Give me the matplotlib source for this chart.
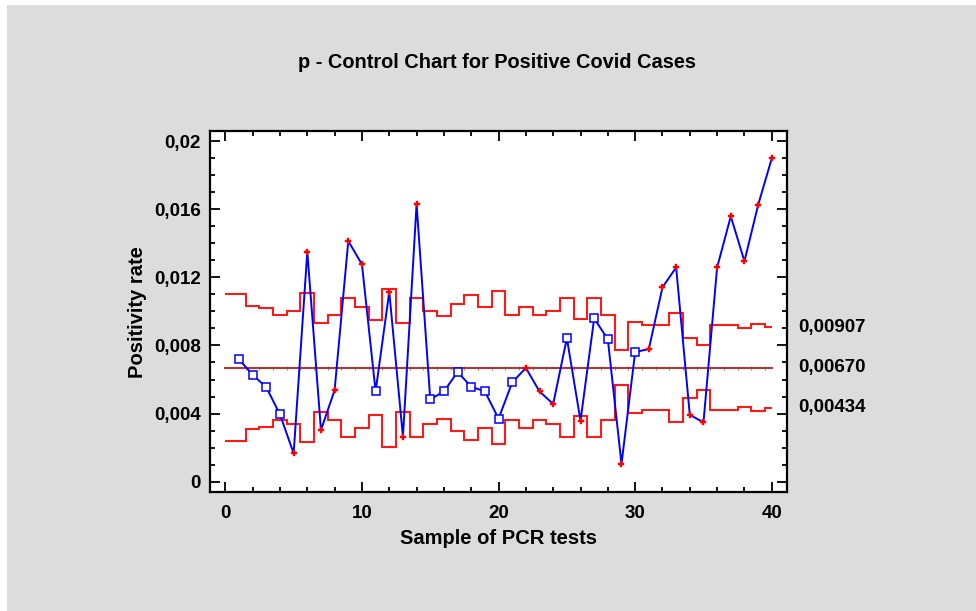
import numpy as np
import matplotlib
matplotlib.use("Agg")
import matplotlib.pyplot as plt
from matplotlib.patches import Rectangle
from matplotlib.ticker import MultipleLocator, FuncFormatter

# proportion of positive PCR tests per sample
samples = np.arange(1, 41)
positivity = [0.00718, 0.00628, 0.00554, 0.00395, 0.00166, 0.01350, 0.00303, 0.00538, 0.01413, 0.01276,
              0.00530, 0.01115, 0.00264, 0.01630, 0.00483, 0.00530, 0.00644, 0.00558, 0.00530, 0.00370,
              0.00583, 0.00668, 0.00530, 0.00456, 0.00843, 0.00358, 0.00959, 0.00836, 0.00104, 0.00761,
              0.00779, 0.01141, 0.01258, 0.00393, 0.00348, 0.01258, 0.01558, 0.01294, 0.01624, 0.01898]

# 3-sigma half width of the limits (depends on sample size)
sigma3 = [0.00432, 0.00363, 0.00347, 0.00310, 0.00330, 0.00435, 0.00261, 0.00310, 0.00410, 0.00356,
          0.00280, 0.00464, 0.00261, 0.00410, 0.00330, 0.00301, 0.00374, 0.00423, 0.00356, 0.00447,
          0.00310, 0.00356, 0.00310, 0.00330, 0.00406, 0.00285, 0.00406, 0.00310, 0.00104, 0.00267,
          0.00248, 0.00248, 0.00319, 0.00176, 0.00130, 0.00248, 0.00248, 0.00230, 0.00257, 0.002367]

center = 0.006703

# samples drawn with the red "+" marker
flagged = [5, 6, 7, 8, 9, 10, 12, 13, 14, 22, 23, 24, 26, 29, 31, 32, 33, 34, 35, 36, 37, 38, 39, 40]

plt.rcParams["font.family"] = ["Liberation Sans", "DejaVu Sans"]
plt.rcParams["font.weight"] = "bold"

fig = plt.figure(figsize=(9.76, 6.11), dpi=100)
fig.patch.set_facecolor("white")
fig.patches.append(Rectangle((7 / 976, 0), 1 - 7 / 976, 1 - 5 / 611,
                             transform=fig.transFigure, facecolor="#dcdcdc",
                             edgecolor="none", zorder=-10))

ax = fig.add_axes([0.2152, 0.1943, 0.5915, 0.5913])
ax.set_facecolor("white")

ucl = center + np.array(sigma3)
lcl = center - np.array(sigma3)
edges = np.concatenate([[0], samples[:-1] + 0.5, [samples[-1]]])

ax.stairs(ucl, edges, baseline=None, color="#ff1a1a", lw=1.5, zorder=2)
ax.stairs(lcl, edges, baseline=None, color="#ff1a1a", lw=1.5, zorder=2)
ax.plot([0, samples[-1]], [center, center], color="#a83a3a", lw=1.5, zorder=2)
ax.plot(edges[1:-1], [center] * (len(edges) - 2), ls="none", marker="|",
        ms=2.2, mew=0.5, color="#a83a3a", zorder=2)

ax.plot(samples, positivity, color="#0000ff", lw=1.4, zorder=3)
pos = np.array(positivity)
is_flag = np.isin(samples, flagged)
ax.plot(samples[~is_flag], pos[~is_flag], ls="none", marker="s", ms=6,
        mfc="white", mec="#0000ff", mew=1.1, zorder=4)
ax.plot(samples[is_flag], pos[is_flag], ls="none", marker="P", ms=5,
        color="#ff0000", mec="#ff0000", mew=0.3, zorder=4)

ax.set_xlim(-1.12, 41.14)
ax.set_ylim(-0.00062, 0.02059)

ax.xaxis.set_major_locator(MultipleLocator(10))
ax.xaxis.set_minor_locator(MultipleLocator(2))
ax.yaxis.set_major_locator(MultipleLocator(0.004))
ax.yaxis.set_minor_locator(MultipleLocator(0.001))
ax.yaxis.set_major_formatter(FuncFormatter(lambda v, _: f"{v:g}".replace(".", ",")))

ax.tick_params(which="both", direction="in", top=True, right=True, width=1.3,
               labelsize=13.5, colors="black")
ax.tick_params(which="major", length=7)
ax.tick_params(which="minor", length=3.5)
ax.tick_params(axis="y", pad=6.5)
ax.tick_params(axis="x", pad=9)
for sp in ax.spines.values():
    sp.set_linewidth(1.6)

ax.set_xlabel("Sample of PCR tests", fontsize=14.5, fontweight="bold", labelpad=5)
ax.set_ylabel("Positivity rate", fontsize=14.5, fontweight="bold", labelpad=5)
fig.text(0.5092, 0.898, "p - Control Chart for Positive Covid Cases",
         ha="center", va="center", fontsize=14.4, fontweight="bold")

for val in (ucl[-1], center, lcl[-1]):
    ax.annotate(f"{val:.5f}".replace(".", ","), xy=(1.0185, val),
                xycoords=("axes fraction", "data"), ha="left", va="center",
                fontsize=13.5, fontweight="bold", annotation_clip=False)

fig.savefig("out.png", dpi=100)
